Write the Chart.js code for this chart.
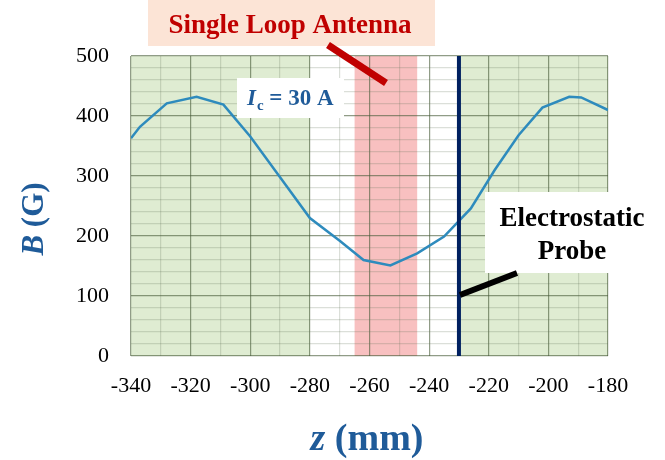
<!DOCTYPE html>
<html>
<head>
<meta charset="utf-8">
<script src="https://cdn.jsdelivr.net/npm/chart.js@4/dist/chart.umd.min.js"></script>
<style>
    html, body { margin: 0; padding: 0; background: #fff; }
    #wrap { width: 665px; height: 460px; }
</style>
</head>
<body>
<div id="wrap"><canvas id="fieldChart" width="665" height="460"></canvas></div>
<script>
// axial position z (mm) and magnetic field B (G)
const zValues = [-340, -337, -328, -318, -309, -300, -290, -280, -270, -262, -253, -244, -235, -226, -218, -210, -202, -193, -189, -180];
const bValues = [363, 382, 421, 432, 419, 366, 298, 230, 192, 160, 151, 171, 199, 246, 310, 368, 414, 432, 431, 410];

const xRange = [-340, -180];
const yRange = [0, 500];

// shaded regions along z
const greenLeft = [-340, -280];
const antennaBand = [-265, -244];
const probeZ = -230;
const greenRight = [-230, -180];

const serif = '"Liberation Serif", "Times New Roman", serif';
const titleBlue = '#1f5b99';

const backgroundPlugin = {
    id: 'bands',
    beforeDraw(chart) {
        const ctx = chart.ctx;
        const x = chart.scales.x;
        const area = chart.chartArea;
        ctx.save();
        ctx.fillStyle = '#fff';
        ctx.fillRect(0, 0, chart.width, chart.height);

        ctx.fillStyle = '#dfecd2';
        [greenLeft, greenRight].forEach(r => {
            const x0 = x.getPixelForValue(r[0]);
            const x1 = x.getPixelForValue(r[1]);
            ctx.fillRect(x0, area.top, x1 - x0, area.bottom - area.top);
        });

        ctx.fillStyle = '#f8c0c0';
        const a0 = x.getPixelForValue(antennaBand[0]);
        const a1 = x.getPixelForValue(antennaBand[1]);
        ctx.fillRect(a0, area.top, a1 - a0, area.bottom - area.top);
        ctx.restore();
    }
};

const labelsPlugin = {
    id: 'labels',
    afterDraw(chart) {
        const ctx = chart.ctx;
        const x = chart.scales.x;
        const area = chart.chartArea;
        ctx.save();

        // probe position
        const px = x.getPixelForValue(probeZ);
        ctx.strokeStyle = '#002060';
        ctx.lineWidth = 4;
        ctx.beginPath();
        ctx.moveTo(px, area.top);
        ctx.lineTo(px, area.bottom);
        ctx.stroke();

        // Single Loop Antenna label
        ctx.fillStyle = '#fce4d6';
        ctx.fillRect(148, 0, 287, 46);
        ctx.fillStyle = '#c00000';
        ctx.font = 'bold 27px ' + serif;
        ctx.textAlign = 'center';
        ctx.textBaseline = 'alphabetic';
        ctx.fillText('Single Loop Antenna', 290, 33);
        ctx.strokeStyle = '#c00000';
        ctx.lineWidth = 7;
        ctx.beginPath();
        ctx.moveTo(328, 45);
        ctx.lineTo(386, 83);
        ctx.stroke();

        // coil current label
        ctx.fillStyle = '#fff';
        ctx.fillRect(237, 78, 107, 40);
        ctx.fillStyle = titleBlue;
        ctx.textAlign = 'left';
        ctx.font = 'italic bold 23px ' + serif;
        ctx.fillText('I', 247, 105);
        let cx = 247 + ctx.measureText('I').width + 1;
        ctx.font = 'bold 15px ' + serif;
        ctx.fillText('c', cx, 110);
        cx += ctx.measureText('c').width;
        ctx.font = 'bold 23px ' + serif;
        ctx.fillText(' = 30 A', cx, 105);

        // Electrostatic Probe label
        ctx.fillStyle = '#fff';
        ctx.fillRect(485, 192, 172, 81);
        ctx.fillStyle = '#000';
        ctx.textAlign = 'center';
        ctx.font = 'bold 27px ' + serif;
        ctx.fillText('Electrostatic', 572, 226);
        ctx.fillText('Probe', 572, 259);
        ctx.strokeStyle = '#000';
        ctx.lineWidth = 6;
        ctx.beginPath();
        ctx.moveTo(460, 295);
        ctx.lineTo(517, 273);
        ctx.stroke();

        // axis titles (mixed italic / upright)
        ctx.fillStyle = titleBlue;
        ctx.textAlign = 'left';
        ctx.font = 'italic bold 38px ' + serif;
        const wz = ctx.measureText('z').width;
        ctx.font = 'bold 38px ' + serif;
        const wmm = ctx.measureText(' (mm)').width;
        let tx = 367 - (wz + wmm) / 2;
        ctx.font = 'italic bold 38px ' + serif;
        ctx.fillText('z', tx, 450);
        ctx.font = 'bold 38px ' + serif;
        ctx.fillText(' (mm)', tx + wz, 450);

        ctx.translate(43, 219);
        ctx.rotate(-Math.PI / 2);
        ctx.font = 'italic bold 31px ' + serif;
        const wb = ctx.measureText('B').width;
        ctx.font = 'bold 31px ' + serif;
        const wg = ctx.measureText(' (G)').width;
        tx = -(wb + wg) / 2;
        ctx.font = 'italic bold 31px ' + serif;
        ctx.fillText('B', tx, 0);
        ctx.font = 'bold 31px ' + serif;
        ctx.fillText(' (G)', tx + wb, 0);

        ctx.restore();
    }
};

const gridColor = (major) => (c) => {
    const v = c.tick ? c.tick.value : 0;
    return v % major === 0 ? 'rgba(70, 90, 55, 0.6)' : 'rgba(90, 110, 80, 0.22)';
};

const ctx = document.getElementById('fieldChart').getContext('2d');
new Chart(ctx, {
    type: 'line',
    data: {
        datasets: [{
            label: 'B',
            data: zValues.map((z, i) => ({ x: z, y: bValues[i] })),
            borderColor: '#2e8bbd',
            borderWidth: 2.5,
            pointRadius: 0,
            tension: 0,
            fill: false
        }]
    },
    options: {
        responsive: false,
        animation: false,
        devicePixelRatio: 1,
        layout: { padding: { top: 56, right: 57, left: 0, bottom: 0 } },
        scales: {
            x: {
                type: 'linear',
                min: xRange[0],
                max: xRange[1],
                afterFit(scale) { scale.height = 104; },
                ticks: {
                    stepSize: 10,
                    autoSkip: false,
                    maxRotation: 0,
                    padding: 17,
                    color: '#000',
                    font: { family: serif, size: 22 },
                    callback: v => (v % 20 === 0 ? String(v) : '')
                },
                grid: { color: gridColor(20), lineWidth: 1.2, drawTicks: false },
                border: { display: false }
            },
            y: {
                min: yRange[0],
                max: yRange[1],
                afterFit(scale) { scale.width = 131; },
                ticks: {
                    stepSize: 20,
                    autoSkip: false,
                    padding: 22,
                    color: '#000',
                    font: { family: serif, size: 22 },
                    callback: v => (v % 100 === 0 ? String(v) : '')
                },
                grid: { color: gridColor(100), lineWidth: 1.2, drawTicks: false },
                border: { display: false }
            }
        },
        plugins: {
            legend: { display: false },
            tooltip: { enabled: false }
        }
    },
    plugins: [backgroundPlugin, labelsPlugin]
});
</script>
</body>
</html>
